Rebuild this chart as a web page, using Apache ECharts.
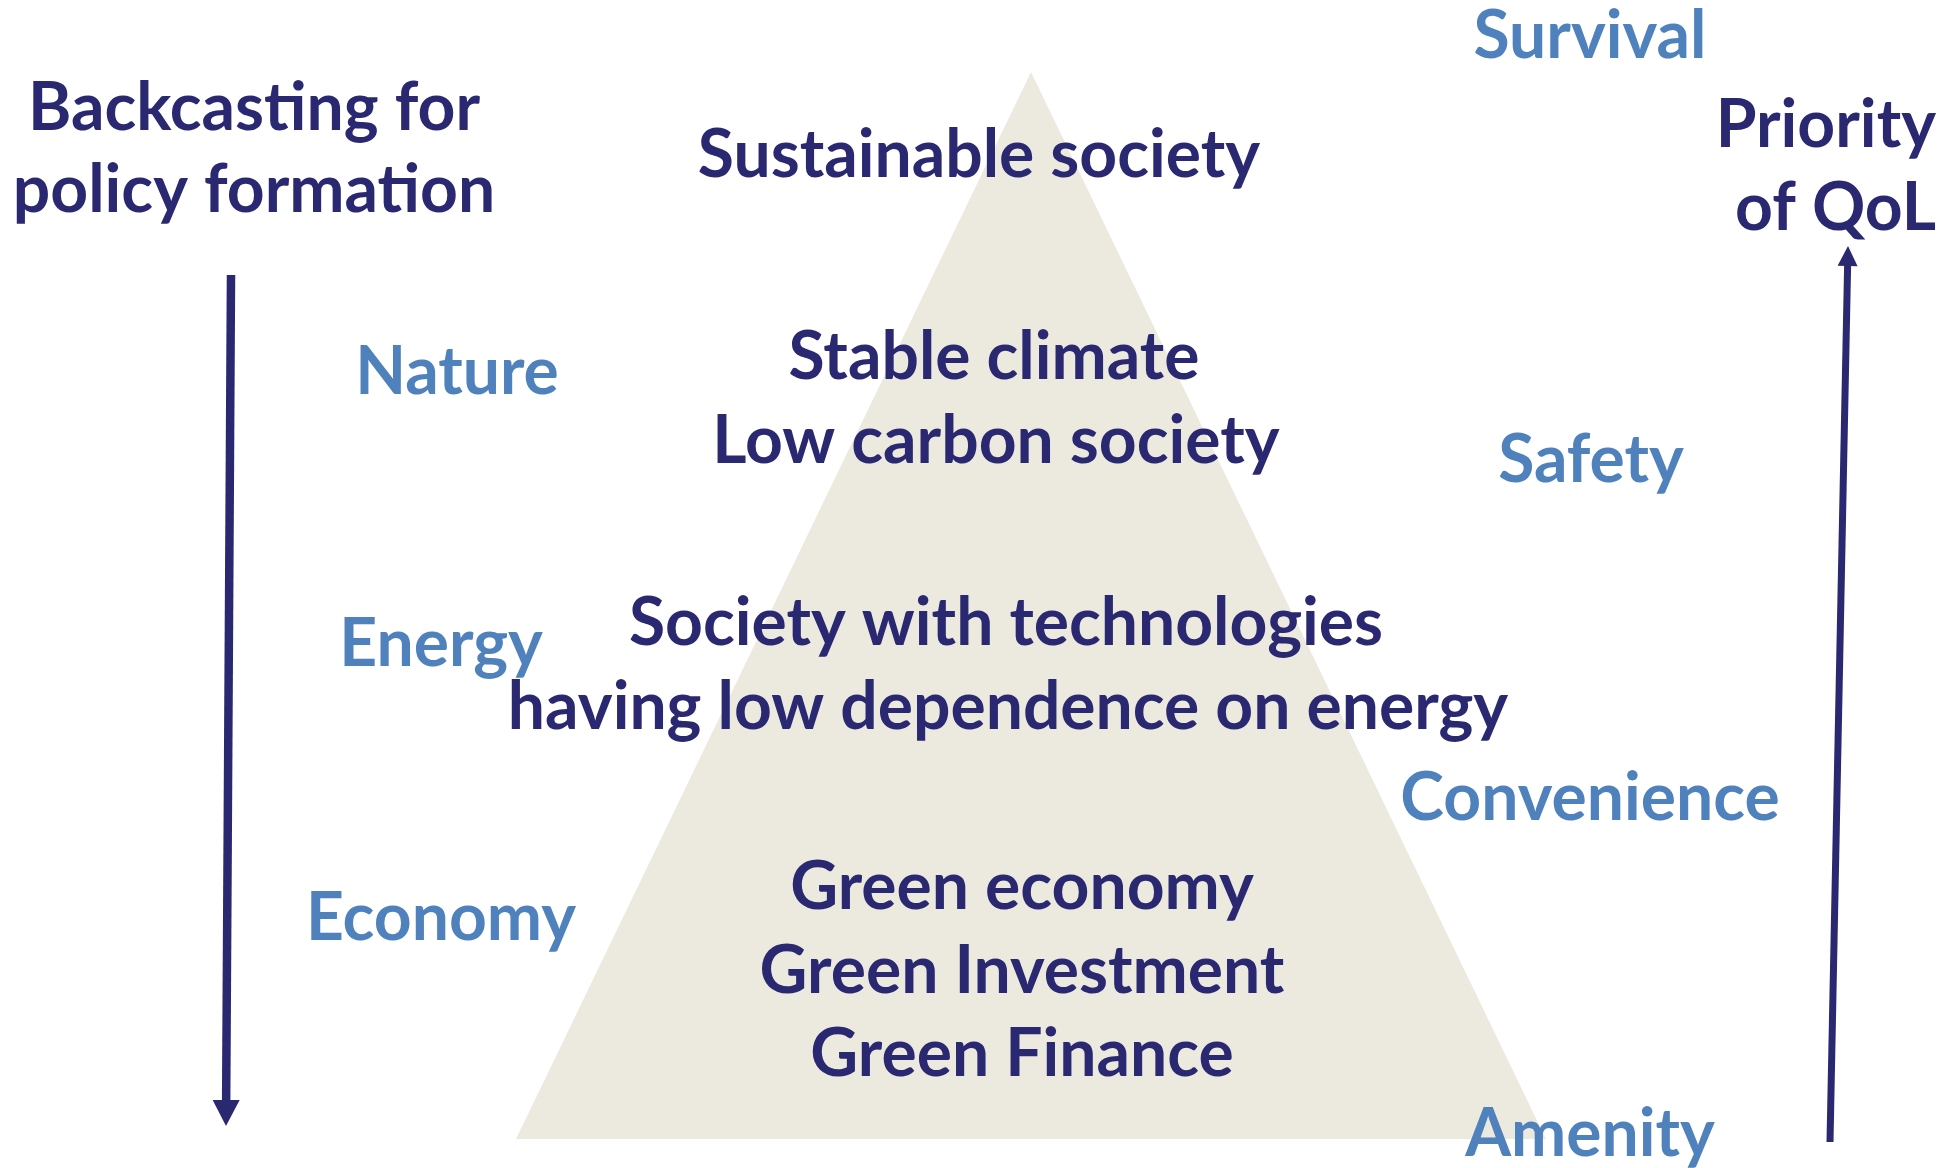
<!DOCTYPE html>
<html><head><meta charset="utf-8">
<script src="https://cdn.jsdelivr.net/npm/echarts@6/dist/echarts.min.js"></script>
<style>html,body{margin:0;padding:0;background:#fff}#c{width:1953px;height:1168px}</style>
</head><body><div id="c"></div>
<script>
// Diagram coordinate space (x to the right, y downward); text y values are baselines
const trianglePts = [[1031, 72], [516, 1139], [1546, 1139]];
// Main statements (dark navy), centred
const mainTexts = ["Sustainable society", "Stable climate", "Low carbon society",
  "Society with technologies", "having low dependence on energy",
  "Green economy", "Green Investment", "Green Finance"];
const mainX = [979, 994, 996, 1006, 1008, 1022, 1022, 1022];
const mainY = [177, 379, 463, 645, 729, 909, 993, 1076];
// Left domain labels (light blue)
const leftLabels = ["Nature", "Energy", "Economy"];
const leftX = [457, 441, 441];
const leftY = [394, 666, 940];
// Right QoL labels (light blue)
const rightLabels = ["Survival", "Safety", "Convenience", "Amenity"];
const rightX = [1590, 1591, 1590, 1590];
const rightY = [58, 482, 820, 1156];
// Side titles
const sideTexts = ["Backcasting for", "policy formation", "Priority", "of QoL"];
const sideX = [254, 254, 1936, 1936];
const sideY = [130, 212, 147, 230];
const sideAlign = ["center", "center", "right", "right"];
// Arrows: [x1, y1, x2(tip), y2(tip)]
const arrowLines = [[231, 275, 226, 1126], [1830, 1142, 1848, 246]];
const arrowHead = [[27, 26], [20, 20]];
const arrowWidth = [8.5, 7];

const NAVY = '#2A2870', BLUE = '#4F81BD', FILL = '#ECEADF';
const FONT_SIZE = 66;
const FONT = 'bold ' + FONT_SIZE + 'px Lato';
const BASELINE_OFFSET = 0.823 * FONT_SIZE;

const textData = [];
mainTexts.forEach((t, i) => textData.push([mainX[i], mainY[i], t, 'center', NAVY]));
leftLabels.forEach((t, i) => textData.push([leftX[i], leftY[i], t, 'center', BLUE]));
rightLabels.forEach((t, i) => textData.push([rightX[i], rightY[i], t, 'center', BLUE]));
sideTexts.forEach((t, i) => textData.push([sideX[i], sideY[i], t, sideAlign[i], NAVY]));

const chart = echarts.init(document.getElementById('c'), null, {renderer: 'canvas'});
chart.setOption({
  animation: false,
  grid: {left: 0, right: 0, top: 0, bottom: 0},
  xAxis: {type: 'value', min: 0, max: 1953, show: false},
  yAxis: {type: 'value', min: 0, max: 1168, inverse: true, show: false},
  series: [
    {
      type: 'custom', z: 1,
      data: [0],
      renderItem: function (params, api) {
        return {type: 'polygon', shape: {points: trianglePts.map(p => api.coord(p))}, style: {fill: FILL}};
      }
    },
    {
      type: 'custom', z: 2,
      data: arrowLines.map((a, i) => [a[0], a[1], a[2], a[3], i]),
      renderItem: function (params, api) {
        const i = api.value(4);
        const p1 = api.coord([api.value(0), api.value(1)]);
        const p2 = api.coord([api.value(2), api.value(3)]);
        const dx = p2[0] - p1[0], dy = p2[1] - p1[1];
        const len = Math.sqrt(dx * dx + dy * dy);
        const ux = dx / len, uy = dy / len;
        const hw = arrowHead[i][0] / 2, hl = arrowHead[i][1];
        const bx = p2[0] - ux * hl, by = p2[1] - uy * hl;
        return {type: 'group', children: [
          {type: 'line', shape: {x1: p1[0], y1: p1[1], x2: bx + ux, y2: by + uy}, style: {stroke: NAVY, lineWidth: arrowWidth[i]}},
          {type: 'polygon', shape: {points: [[p2[0], p2[1]], [bx - uy * hw, by + ux * hw], [bx + uy * hw, by - ux * hw]]}, style: {fill: NAVY}}
        ]};
      }
    },
    {
      type: 'custom', z: 3,
      data: textData.map((d, i) => [d[0], d[1], i]),
      renderItem: function (params, api) {
        const d = textData[api.value(2)];
        const p = api.coord([d[0], d[1]]);
        return {type: 'text', style: {text: d[2], x: p[0], y: p[1] - BASELINE_OFFSET, font: FONT, fill: d[4], textAlign: d[3], textVerticalAlign: 'top'}};
      }
    }
  ]
});
</script></body></html>
